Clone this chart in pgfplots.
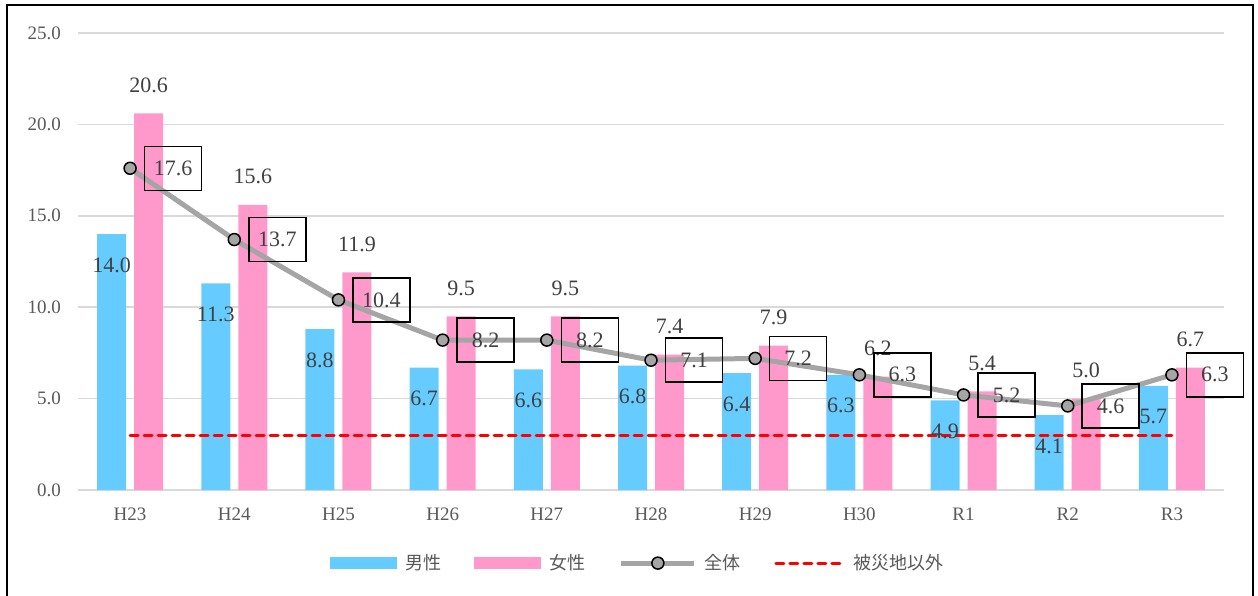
\documentclass[border=0pt]{standalone}
\usepackage{pgfplots}
\pgfplotsset{compat=1.18}
\usepackage{fontspec}
\setmainfont{Liberation Serif}
\newfontfamily\cjk{Noto Sans CJK JP}
\definecolor{colM}{HTML}{66CCFF}
\definecolor{colF}{HTML}{FF99CC}
\definecolor{colL}{HTML}{A5A5A5}
\definecolor{labc}{HTML}{404040}
\definecolor{tickc}{HTML}{595959}
\definecolor{gridc}{HTML}{D9D9D9}
\begin{document}
\begin{tikzpicture}
\useasboundingbox (0,0) rectangle (629pt,297.5pt);
\draw[line width=1pt] (3.5pt,-5pt) rectangle (626.5pt,295pt);
\begin{axis}[
  at={(39pt,52.5pt)}, anchor=south west,
  scale only axis, width=573pt, height=228.5pt,
  xmin=-0.5, xmax=10.5, ymin=0, ymax=25,
  xtick={0,...,10},
  xticklabels={H23,H24,H25,H26,H27,H28,H29,H30,R1,R2,R3},
  ytick={0,5,10,15,20,25},
  yticklabel={\pgfmathprintnumber[fixed,fixed zerofill,precision=1]{\tick}},
  /pgf/number format/assume math mode=true,
  ymajorgrids, grid style={color=gridc, line width=0.75pt},
  axis line style={draw=none},
  major tick length=0pt,
  tick label style={font=\fontsize{9.5}{11}\selectfont, color=tickc},
  yticklabel style={xshift=-5pt},
  xticklabel style={yshift=-5.5pt},
  clip=false,
  legend columns=4,
  legend style={draw=none, at={(0.491,-0.16)}, anchor=center,
    font=\cjk\fontsize{9}{11}\selectfont, text=tickc,
    nodes={inner xsep=4pt},
    /tikz/every even column/.append style={column sep=12.7pt}},
  legend cell align=left,
]
\addplot[ybar, bar width=14.5pt, bar shift=-9.25pt, fill=colM, draw=none,
  nodes near coords={\pgfmathprintnumber[fixed,fixed zerofill,precision=1]{\pgfplotspointmeta}},
  every node near coord/.append style={font=\fontsize{11}{13}\selectfont, color=labc, anchor=center, xshift=-9.25pt, yshift=-15.5pt},
  legend image code/.code={\fill[colM] (0pt,-3pt) rectangle (33.5pt,3pt);}]
  coordinates {(0,14.0) (1,11.3) (2,8.8) (3,6.7) (4,6.6) (5,6.8) (6,6.4) (7,6.3) (8,4.9) (9,4.1) (10,5.7)};
\addlegendentry{男性}
\addplot[ybar, bar width=14.5pt, bar shift=9.25pt, fill=colF, draw=none,
  nodes near coords={\pgfmathprintnumber[fixed,fixed zerofill,precision=1]{\pgfplotspointmeta}},
  every node near coord/.append style={font=\fontsize{11}{13}\selectfont, color=labc, anchor=center, xshift=9.25pt, yshift=14pt},
  legend image code/.code={\fill[colF] (0pt,-3pt) rectangle (33.5pt,3pt);}]
  coordinates {(0,20.6) (1,15.6) (2,11.9) (3,9.5) (4,9.5) (5,7.4) (6,7.9) (7,6.2) (8,5.4) (9,5.0) (10,6.7)};
\addlegendentry{女性}
\addplot[color=colL, line width=2.5pt, mark=*, mark size=3pt,
  mark options={fill=colL, draw=black, line width=0.75pt},
  nodes near coords={\pgfmathprintnumber[fixed,fixed zerofill,precision=1]{\pgfplotspointmeta}},
  every node near coord/.append style={font=\fontsize{11}{13}\selectfont, color=labc, anchor=center, xshift=21.5pt,
    draw=black, line width=0.75pt, minimum width=28.5pt, minimum height=22pt},
  legend image code/.code={\draw[colL, line width=2.5pt] (0pt,0pt) -- (36.5pt,0pt);
     \draw[fill=colL, draw=black, line width=0.75pt] (18.25pt,0pt) circle (3pt);}]
  coordinates {(0,17.6) (1,13.7) (2,10.4) (3,8.2) (4,8.2) (5,7.1) (6,7.2) (7,6.3) (8,5.2) (9,4.6) (10,6.3)};
\addlegendentry{全体}
\addplot[color=red, line width=1.5pt, dash pattern=on 4pt off 3pt, line cap=round,
  legend image code/.code={\draw[red, line width=1.5pt, dash pattern=on 4pt off 3pt, line cap=round] (0pt,0pt) -- (34pt,0pt);}]
  coordinates {(0,3.0) (10,3.0)};
\addlegendentry{被災地以外}
\end{axis}
\end{tikzpicture}
\end{document}
